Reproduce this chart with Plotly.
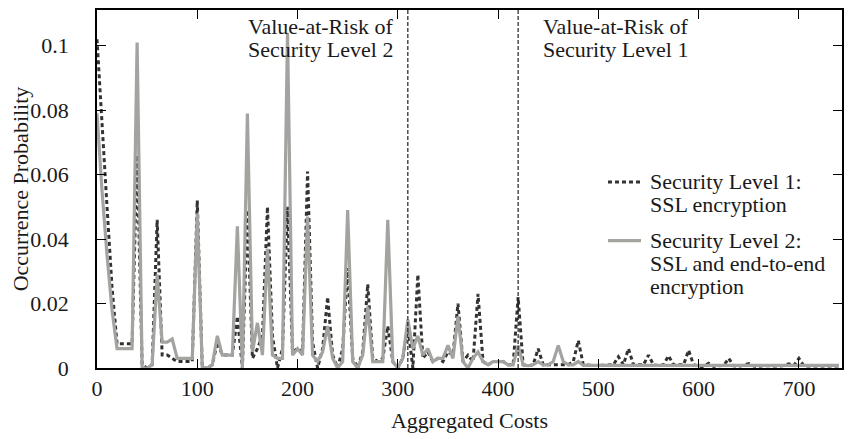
import plotly.graph_objects as go

# Aggregated costs (x positions, step of 5)
costs = [
    0, 5, 10, 15, 20, 25, 30, 35, 40, 45,
    50, 55, 60, 65, 70, 75, 80, 85, 90, 95,
    100, 105, 110, 115, 120, 125, 130, 135, 140, 145,
    150, 155, 160, 165, 170, 175, 180, 185, 190, 195,
    200, 205, 210, 215, 220, 225, 230, 235, 240, 245,
    250, 255, 260, 265, 270, 275, 280, 285, 290, 295,
    300, 305, 310, 315, 320, 325, 330, 335, 340, 345,
    350, 355, 360, 365, 370, 375, 380, 385, 390, 395,
    400, 405, 410, 415, 420, 425, 430, 435, 440, 445,
    450, 455, 460, 465, 470, 475, 480, 485, 490, 495,
    500, 505, 510, 515, 520, 525, 530, 535, 540, 545,
    550, 555, 560, 565, 570, 575, 580, 585, 590, 595,
    600, 605, 610, 615, 620, 625, 630, 635, 640, 645,
    650, 655, 660, 665, 670, 675, 680, 685, 690, 695,
    700, 705, 710, 715, 720, 725, 730, 735, 740,
]

# Security Level 1: SSL encryption
level1 = [
    0.102, 0.075, 0.050, 0.025, 0.0075, 0.0075, 0.0075, 0.0075, 0.066, 0.001,
    0.000, 0.001, 0.046, 0.004, 0.004, 0.003, 0.002, 0.002, 0.002, 0.002,
    0.052, 0.000, 0.000, 0.001, 0.008, 0.004, 0.004, 0.004, 0.016, 0.000,
    0.049, 0.003, 0.006, 0.010, 0.050, 0.010, 0.000, 0.006, 0.050, 0.005,
    0.006, 0.005, 0.061, 0.008, 0.000, 0.006, 0.022, 0.004, 0.000, 0.006,
    0.031, 0.003, 0.000, 0.005, 0.026, 0.003, 0.002, 0.003, 0.013, 0.002,
    0.000, 0.003, 0.013, 0.000, 0.029, 0.003, 0.005, 0.002, 0.003, 0.002,
    0.005, 0.004, 0.020, 0.002, 0.004, 0.002, 0.023, 0.002, 0.001, 0.002,
    0.002, 0.002, 0.001, 0.001, 0.022, 0.001, 0.0007, 0.001, 0.006, 0.001,
    0.001, 0.001, 0.001, 0.001, 0.001, 0.002, 0.0085, 0.001, 0.0008, 0.0008,
    0.0008, 0.0008, 0.0008, 0.001, 0.0035, 0.001, 0.006, 0.001, 0.001, 0.001,
    0.004, 0.001, 0.0008, 0.001, 0.0038, 0.001, 0.001, 0.001, 0.0055, 0.001,
    0.0005, 0.0005, 0.0015, 0.0005, 0.0007, 0.0008, 0.003, 0.0007, 0.0005, 0.001,
    0.0014, 0.0006, 0.0005, 0.0007, 0.0007, 0.0005, 0.0006, 0.0008, 0.0013, 0.0008,
    0.003, 0.0006, 0.0006, 0.0006, 0.0006, 0.0007, 0.0006, 0.0006, 0.0006,
]

# Security Level 2: SSL and end-to-end encryption
level2 = [
    0.079, 0.055, 0.035, 0.018, 0.006, 0.006, 0.006, 0.006, 0.101, 0.000,
    0.000, 0.001, 0.029, 0.008, 0.008, 0.009, 0.003, 0.003, 0.003, 0.003,
    0.048, 0.000, 0.000, 0.001, 0.010, 0.004, 0.004, 0.004, 0.044, 0.000,
    0.079, 0.005, 0.014, 0.004, 0.037, 0.004, 0.003, 0.003, 0.104, 0.004,
    0.006, 0.004, 0.047, 0.004, 0.002, 0.005, 0.013, 0.003, 0.000, 0.002,
    0.049, 0.002, 0.000, 0.004, 0.019, 0.002, 0.002, 0.002, 0.046, 0.002,
    0.000, 0.003, 0.015, 0.006, 0.010, 0.004, 0.006, 0.002, 0.003, 0.003,
    0.007, 0.003, 0.016, 0.002, 0.000, 0.003, 0.005, 0.002, 0.001, 0.002,
    0.002, 0.002, 0.001, 0.001, 0.007, 0.001, 0.0007, 0.001, 0.002, 0.001,
    0.001, 0.002, 0.007, 0.002, 0.001, 0.001, 0.002, 0.0008, 0.0008, 0.0008,
    0.0008, 0.0008, 0.0008, 0.0008, 0.0009, 0.0008, 0.0008, 0.0008, 0.0008, 0.0008,
    0.0008, 0.0008, 0.0008, 0.0008, 0.0008, 0.0008, 0.0008, 0.0008, 0.0008, 0.0008,
    0.0008, 0.0008, 0.0008, 0.0008, 0.0008, 0.0008, 0.0008, 0.0008, 0.0008, 0.0008,
    0.0008, 0.0008, 0.0008, 0.0008, 0.0008, 0.0008, 0.0008, 0.0008, 0.0008, 0.0008,
    0.0008, 0.0008, 0.0008, 0.0008, 0.0008, 0.0008, 0.0008, 0.0008, 0.0008,
]

var_level2 = 310
var_level1 = 420

series_names = [
    ["Security Level 1:", "SSL encryption"],
    ["Security Level 2:", "SSL and end-to-end", "encryption"],
]
var_labels = [
    ["Value-at-Risk of", "Security Level 2"],
    ["Value-at-Risk of", "Security Level 1"],
]

x_ticks = [0, 100, 200, 300, 400, 500, 600, 700]
y_ticks = [0, 0.02, 0.04, 0.06, 0.08, 0.1]
y_tick_labels = ["0", "0.02", "0.04", "0.06", "0.08", "0.1"]

FONT = "Liberation Serif, Times New Roman, serif"
FS = 22
TXT = "#1a1a1a"
DARK = "#333333"
GRAY = "#a3a3a0"

fig = go.Figure()
fig.add_trace(go.Scatter(
    x=costs, y=level1, mode="lines", name=" ".join(series_names[0]),
    line=dict(color=DARK, width=3, dash="4px,3px"), showlegend=False,
))
fig.add_trace(go.Scatter(
    x=costs, y=level2, mode="lines", name=" ".join(series_names[1]),
    line=dict(color=GRAY, width=3.2), showlegend=False,
))

# Value-at-Risk markers
for v in (var_level2, var_level1):
    fig.add_shape(type="line", xref="x", yref="paper", x0=v, x1=v, y0=0, y1=1,
                  line=dict(color="#222222", width=1.2, dash="4px,2px"))

top_rows = [-16, -39]
for i, t in enumerate(var_labels[0]):
    fig.add_annotation(x=var_level2, xref="x", y=1, yref="paper", yshift=top_rows[i],
                       text=t, xanchor="right", yanchor="middle", xshift=-14,
                       borderpad=0, showarrow=False,
                       font=dict(family=FONT, size=FS, color=TXT))
for i, t in enumerate(var_labels[1]):
    fig.add_annotation(x=var_level1, xref="x", y=1, yref="paper", yshift=top_rows[i],
                       text=t, xanchor="left", yanchor="middle", xshift=24,
                       borderpad=0, showarrow=False,
                       font=dict(family=FONT, size=FS, color=TXT))

# Legend (hand placed to mimic the compact original); offsets in px above x-axis
leg_x0, leg_x1, leg_tx = 0.6859, 0.7302, 0.7403
entry_rows = [[187, 164], [128, 105, 82]]
entry_styles = [dict(color=DARK, width=3, dash="4px,3px"), dict(color=GRAY, width=3.2)]
M_T, M_B = 0, 79
plot_h = 439 - M_T - M_B
for names, rows, sty in zip(series_names, entry_rows, entry_styles):
    fig.add_shape(type="line", xref="paper", yref="paper", x0=leg_x0, x1=leg_x1,
                  y0=rows[0] / plot_h, y1=rows[0] / plot_h, line=sty)
    for t, yy in zip(names, rows):
        fig.add_annotation(x=leg_tx, xref="paper", y=0, yref="paper", yshift=yy, text=t,
                           xanchor="left", yanchor="middle", borderpad=0, showarrow=False,
                           font=dict(family=FONT, size=FS, color=TXT))

axis_common = dict(
    showline=True, linecolor="black", linewidth=1.5, mirror="ticks",
    ticks="inside", ticklen=9, tickwidth=1.2, tickcolor="black",
    showgrid=False, zeroline=False,
    tickfont=dict(family=FONT, size=FS, color=TXT),
)

fig.update_xaxes(range=[0, 743], tickvals=x_ticks,
                 title=dict(text="Aggregated Costs", font=dict(family=FONT, size=FS, color=TXT), standoff=12),
                 **axis_common)
fig.update_yaxes(range=[0, 0.1111], tickvals=y_ticks, ticktext=y_tick_labels,
                 ticklabelstandoff=22,
                 title=dict(text="Occurrence Probability", font=dict(family=FONT, size=FS, color=TXT), standoff=0),
                 **axis_common)

fig.update_layout(
    width=868, height=439,
    margin=dict(l=89, r=34, t=M_T, b=M_B),
    paper_bgcolor="white", plot_bgcolor="white",
    font=dict(family=FONT, size=FS, color=TXT),
    showlegend=False,
)

fig.write_html("out.html")
